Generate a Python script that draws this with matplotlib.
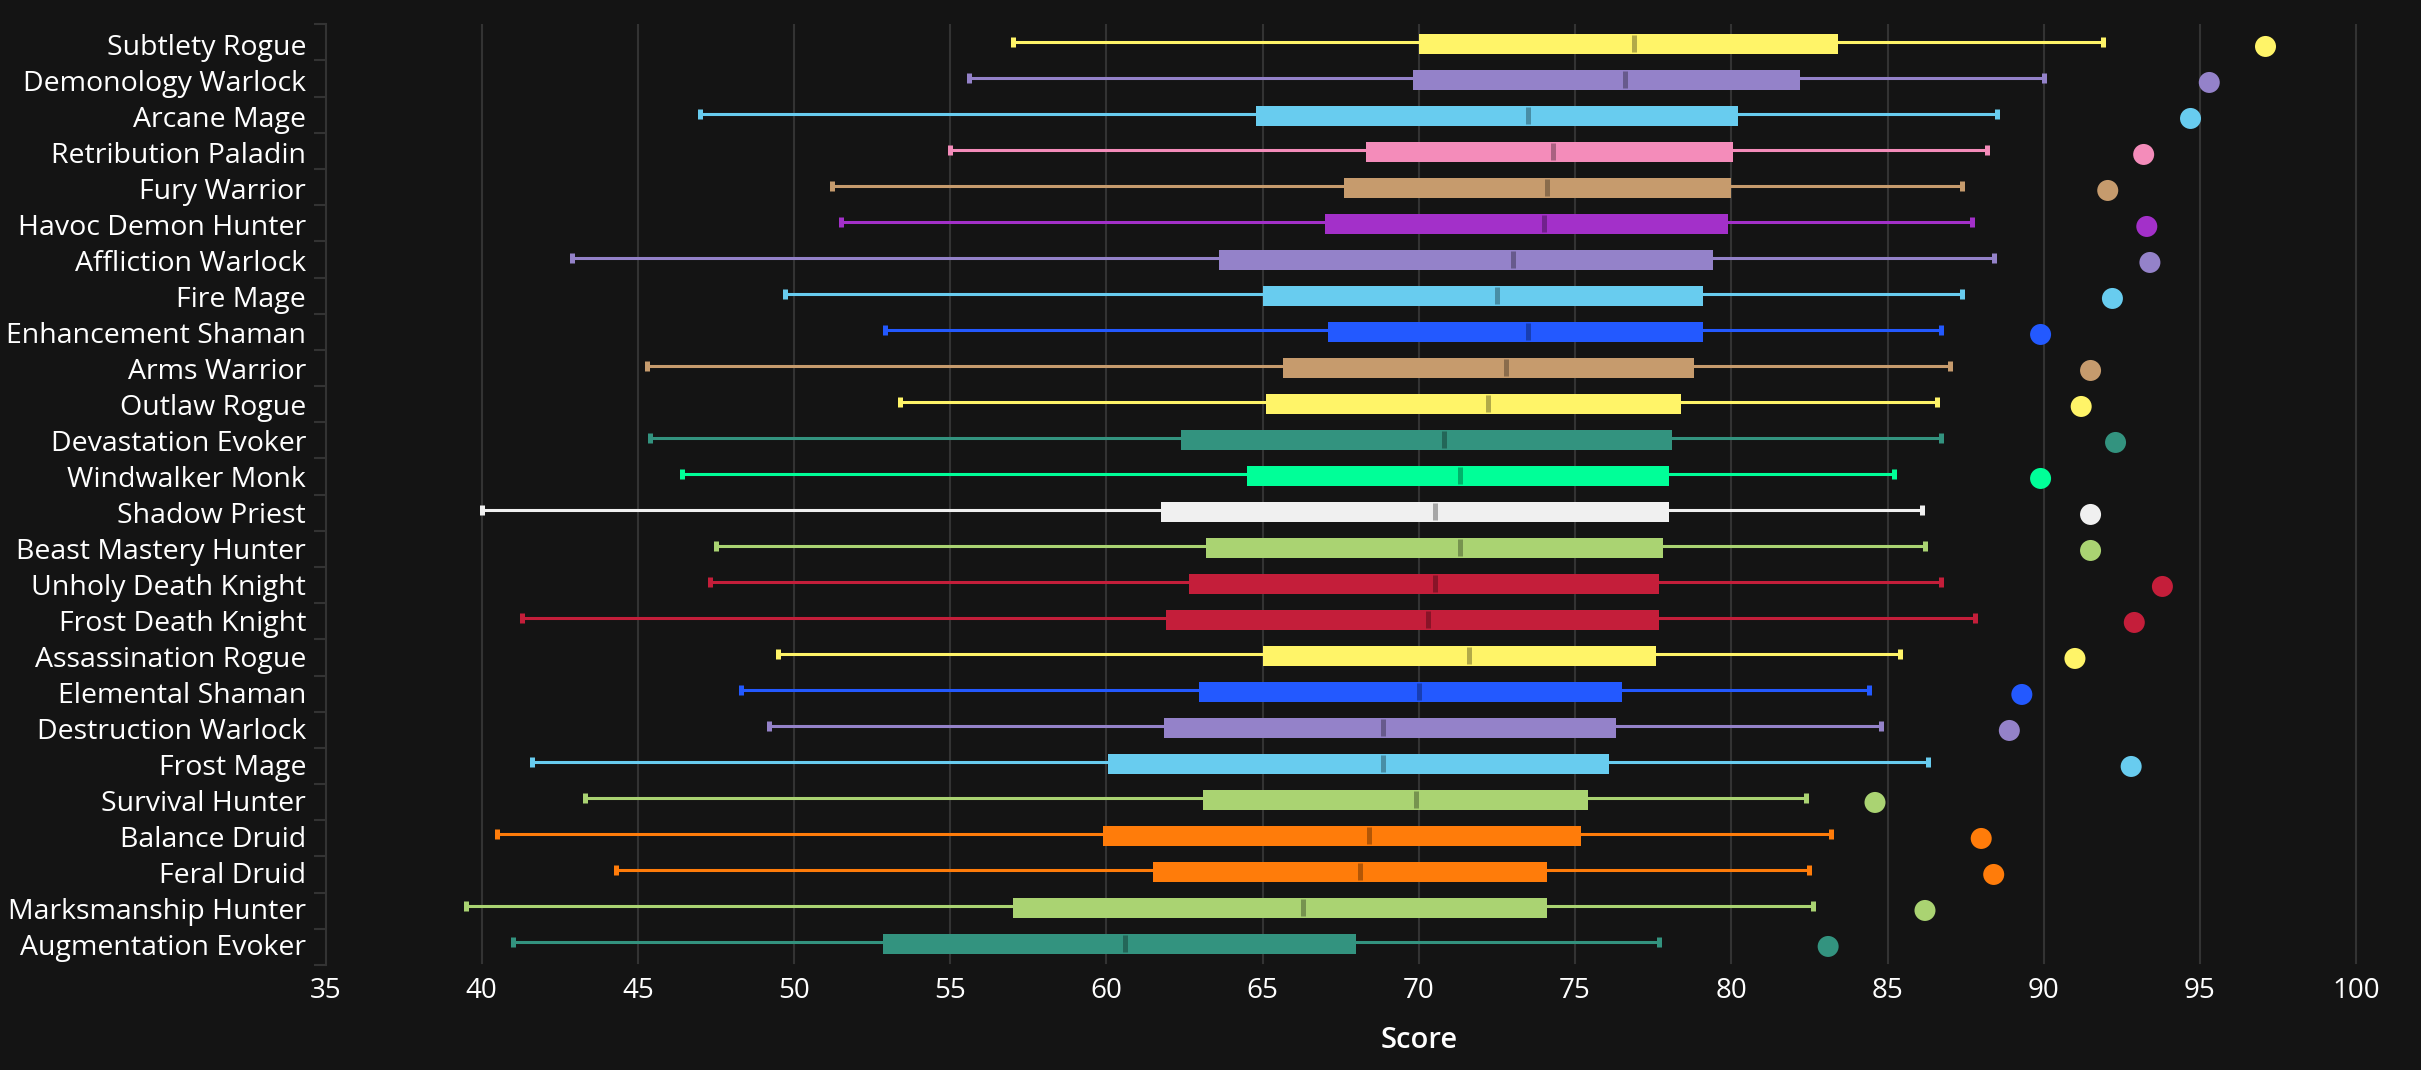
#!/usr/bin/python3
# coding: utf-8

import matplotlib
matplotlib.use('Agg')
import matplotlib.pyplot as plt
from matplotlib.patches import Rectangle
from matplotlib.ticker import FixedLocator
from matplotlib.transforms import ScaledTranslation

specs = ['Subtlety Rogue', 'Demonology Warlock', 'Arcane Mage', 'Retribution Paladin',
         'Fury Warrior', 'Havoc Demon Hunter', 'Affliction Warlock', 'Fire Mage',
         'Enhancement Shaman', 'Arms Warrior', 'Outlaw Rogue', 'Devastation Evoker',
         'Windwalker Monk', 'Shadow Priest', 'Beast Mastery Hunter', 'Unholy Death Knight',
         'Frost Death Knight', 'Assassination Rogue', 'Elemental Shaman', 'Destruction Warlock',
         'Frost Mage', 'Survival Hunter', 'Balance Druid', 'Feral Druid',
         'Marksmanship Hunter', 'Augmentation Evoker']

low = [57.0, 55.6, 47.0, 55.0, 51.2, 51.5, 42.9, 49.7, 52.9, 45.3, 53.4, 45.4, 46.4,
       40.0, 47.5, 47.3, 41.3, 49.5, 48.3, 49.2, 41.6, 43.3, 40.5, 44.3, 39.5, 41.0]
q1 = [70.0, 69.8, 64.8, 68.3, 67.6, 67.0, 63.6, 65.0, 67.1, 65.65, 65.1, 62.4, 64.5,
      61.75, 63.2, 62.65, 61.9, 65.0, 62.95, 61.85, 60.05, 63.1, 59.9, 61.5, 57.0, 52.85]
median = [76.9, 76.6, 73.5, 74.3, 74.1, 74.0, 73.0, 72.5, 73.5, 72.8, 72.2, 70.8, 71.3,
          70.5, 71.3, 70.5, 70.3, 71.6, 70.0, 68.85, 68.85, 69.9, 68.4, 68.1, 66.3, 60.6]
q3 = [83.4, 82.2, 80.2, 80.05, 80.0, 79.9, 79.4, 79.1, 79.1, 78.8, 78.4, 78.1, 78.0,
      78.0, 77.8, 77.7, 77.7, 77.6, 76.5, 76.3, 76.1, 75.4, 75.2, 74.1, 74.1, 68.0]
high = [91.9, 90.0, 88.5, 88.2, 87.4, 87.7, 88.4, 87.4, 86.7, 87.0, 86.6, 86.7, 85.2,
        86.1, 86.2, 86.7, 87.8, 85.4, 84.4, 84.8, 86.3, 82.4, 83.2, 82.5, 82.6, 77.7]
top = [97.1, 95.3, 94.7, 93.2, 92.05, 93.3, 93.4, 92.2, 89.9, 91.5, 91.2, 92.3, 89.9,
       91.5, 91.5, 93.8, 92.9, 91.0, 89.3, 88.9, 92.8, 84.6, 88.0, 88.4, 86.2, 83.1]

rogue, warlock, mage, warrior = '#FFF468', '#9482C9', '#68CCEF', '#C69B6D'
paladin, dh, shaman, evoker = '#F48CBA', '#A330C9', '#2359FF', '#33937F'
monk, priest, hunter, dk, druid = '#00FF98', '#F0F0F0', '#AAD372', '#C41E3A', '#FF7C0A'
colors = [rogue, warlock, mage, paladin, warrior, dh, warlock, mage, shaman, warrior,
          rogue, evoker, monk, priest, hunter, dk, dk, rogue, shaman, warlock,
          mage, hunter, druid, druid, hunter, evoker]

BG = '#141414'
AXIS = '#333333'
W, H = 2421, 1070
plt.rcParams['font.family'] = ['Open Sans', 'DejaVu Sans']

fig = plt.figure(figsize=(W / 100, H / 100), dpi=100, facecolor=BG)
left, right, bottom, ax_top = 325.5, 2421, 965, 24.3
ax = fig.add_axes([left / W, 1 - bottom / H, (right - left) / W, (bottom - ax_top) / H], facecolor=BG)
ax.set_xlim(35, 35 + (right - left) / 31.24)
ax.set_ylim(len(specs), 0)

# grid stops at 100 and just short of the axis end
for x in range(40, 105, 5):
    ax.plot([x, x], [0, len(specs) - 0.05], color=AXIS, lw=1.5, zorder=1)

# rows are a little tighter than the category ticks
rows = [0.4975 + i * 0.995 for i in range(len(specs))]

for i, c in enumerate(colors):
    y = rows[i]
    ax.plot([low[i], high[i]], [y, y], color=c, lw=2.2, zorder=2, solid_capstyle='butt')
    for v in (low[i], high[i]):
        ax.plot([v, v], [y - 0.14, y + 0.14], color=c, lw=3.6, zorder=2, solid_capstyle='butt')
    ax.add_patch(Rectangle((q1[i], y + 0.04 - 0.277), q3[i] - q1[i], 0.554, facecolor=c, edgecolor='none', zorder=3))
    ax.plot([median[i], median[i]], [y + 0.04 - 0.24, y + 0.04 + 0.24], color='black', alpha=0.3, lw=3.6,
            solid_capstyle='butt', zorder=4)
    ax.scatter([top[i]], [y + 0.115], s=(21 * 0.72) ** 2, color=c, edgecolors='none', zorder=5)

for s in ('top', 'right', 'bottom'):
    ax.spines[s].set_visible(False)
ax.spines['left'].set_color(AXIS)
ax.spines['left'].set_linewidth(1.5)

ax.set_xticks(range(35, 105, 5))
ax.tick_params(axis='x', length=0, pad=9, labelsize=20, labelcolor='white')

ax.set_yticks(rows)
ax.set_yticklabels(specs, fontsize=20.5, color='white')
ax.yaxis.set_minor_locator(FixedLocator(range(len(specs) + 1)))
ax.tick_params(axis='y', which='major', length=0, pad=14)
ax.tick_params(axis='y', which='minor', length=8.6, width=1.5, color=AXIS)
# labels sit slightly under the whisker line
shift = ScaledTranslation(0, -2 / 100, fig.dpi_scale_trans)
for lab in ax.get_yticklabels():
    lab.set_transform(lab.get_transform() + shift)

fig.text(1419 / W, 1 - 1040 / H, 'Score', color='white', fontsize=21, fontweight='semibold', ha='center', va='center')

fig.savefig('out.png', dpi=100, facecolor=BG)
